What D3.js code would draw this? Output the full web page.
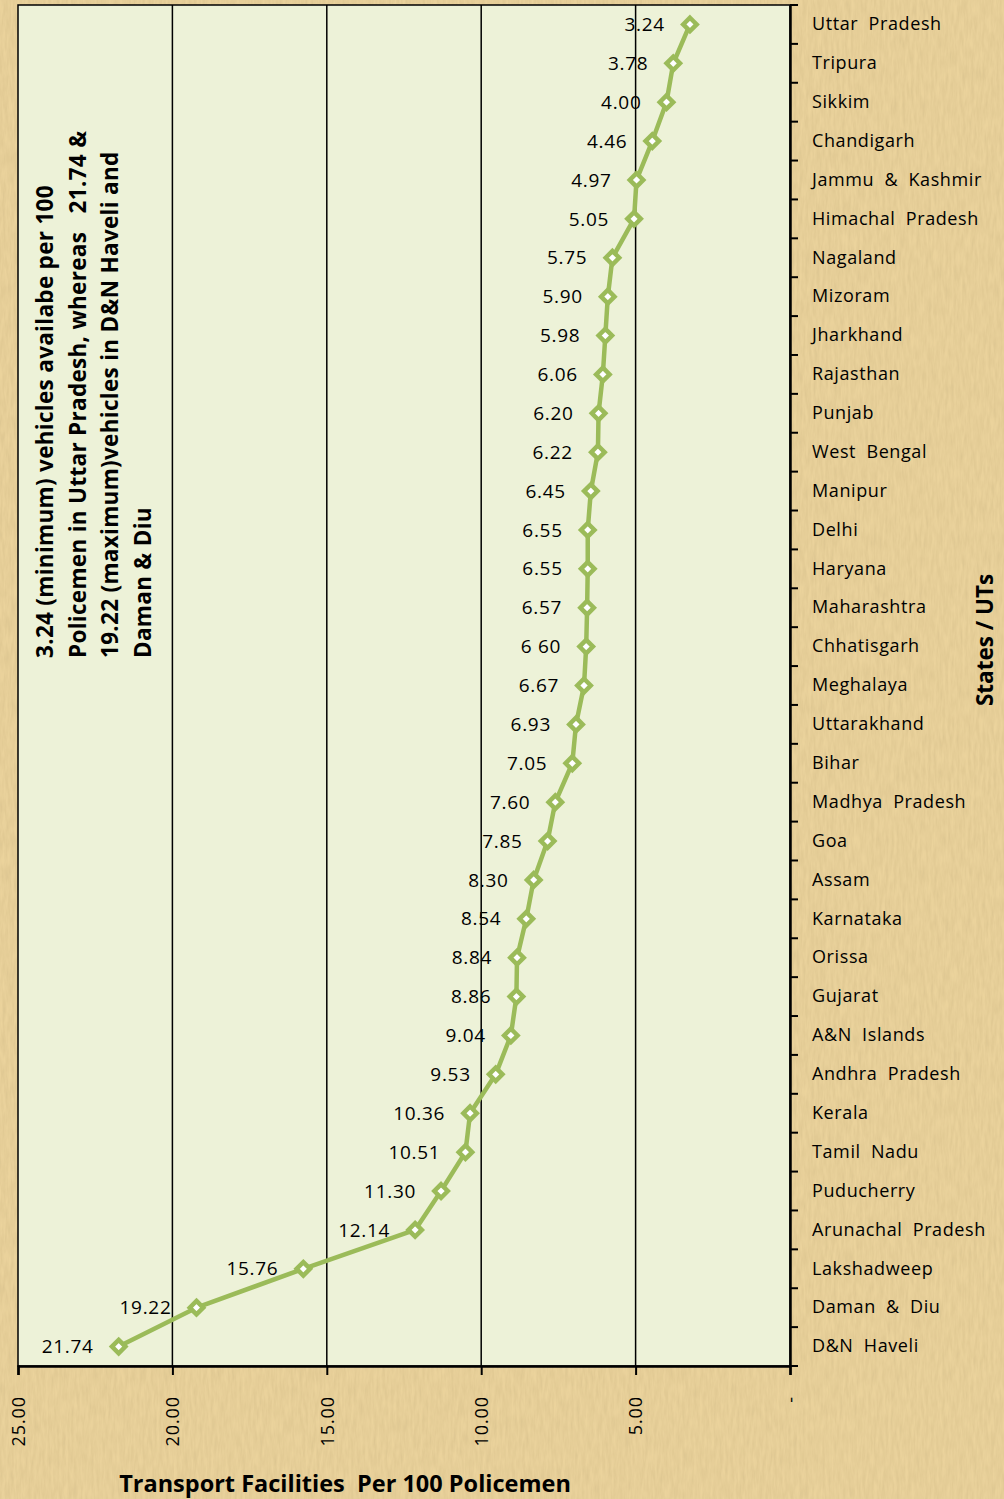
<!DOCTYPE html>
<html>
<head>
<meta charset="utf-8">
<script src="https://cdn.jsdelivr.net/npm/d3@7"></script>
<style>
  html, body { margin: 0; padding: 0; background: #e8d19d; }
  svg { display: block; }
</style>
</head>
<body>
<div id="chart"></div>
<script>
// states / UTs, top to bottom
var states = ["Uttar Pradesh", "Tripura", "Sikkim", "Chandigarh", "Jammu & Kashmir",
  "Himachal Pradesh", "Nagaland", "Mizoram", "Jharkhand", "Rajasthan", "Punjab",
  "West Bengal", "Manipur", "Delhi", "Haryana", "Maharashtra", "Chhatisgarh",
  "Meghalaya", "Uttarakhand", "Bihar", "Madhya Pradesh", "Goa", "Assam", "Karnataka",
  "Orissa", "Gujarat", "A&N Islands", "Andhra Pradesh", "Kerala", "Tamil Nadu",
  "Puducherry", "Arunachal Pradesh", "Lakshadweep", "Daman & Diu", "D&N Haveli"];

// transport facilities per 100 policemen
var values = [3.24, 3.78, 4.00, 4.46, 4.97, 5.05, 5.75, 5.90, 5.98, 6.06, 6.20,
  6.22, 6.45, 6.55, 6.55, 6.57, 6.60, 6.67, 6.93, 7.05, 7.60, 7.85, 8.30, 8.54,
  8.84, 8.86, 9.04, 9.53, 10.36, 10.51, 11.30, 12.14, 15.76, 19.22, 21.74];

// data labels as printed (one has a typo in the source)
var labelText = values.map(function (v) { return d3.format(".2f")(v); });
labelText[16] = "6 60";

var xTicks = [0, 5, 10, 15, 20, 25];

var note = ["3.24 (minimum) vehicles availabe per 100",
  "Policemen in Uttar Pradesh, whereas   21.74 &",
  "19.22 (maximum)vehicles in D&N Haveli and",
  "Daman & Diu"];

var W = 1004, H = 1499;
var plot = { left: 18, right: 790, top: 5, bottom: 1366 };
var green = "#9bbb59";
var font = "'Open Sans', Lato, sans-serif";

var svg = d3.select("#chart").append("svg")
  .attr("width", W)
  .attr("height", H)
  .style("font-family", font);

// papyrus-ish texture
var defs = svg.append("defs");
var f = defs.append("filter").attr("id", "paper")
  .attr("x", 0).attr("y", 0).attr("width", "100%").attr("height", "100%");
f.append("feTurbulence").attr("type", "fractalNoise")
  .attr("baseFrequency", "0.35 0.06").attr("numOctaves", 3).attr("seed", 4)
  .attr("result", "noise");
f.append("feColorMatrix").attr("in", "noise").attr("type", "matrix")
  .attr("values", "0 0 0 0 0.55  0 0 0 0 0.42  0 0 0 0 0.2  0 0 0 0.5 -0.1")
  .attr("result", "tint");
f.append("feComposite").attr("in", "tint").attr("in2", "SourceGraphic")
  .attr("operator", "over");

svg.append("rect")
  .attr("width", W).attr("height", H)
  .attr("fill", "#ebd39c")
  .attr("filter", "url(#paper)");

var x = d3.scaleLinear().domain([0, 25]).range([plot.right, plot.left]);
var y = d3.scaleBand().domain(states).range([plot.top, plot.bottom]);

// plot area
svg.append("rect")
  .attr("x", plot.left).attr("y", plot.top)
  .attr("width", plot.right - plot.left).attr("height", plot.bottom - plot.top)
  .attr("fill", "#edf2d8")
  .attr("stroke", "#000").attr("stroke-width", 1.5);

// vertical gridlines
svg.append("g").selectAll("line")
  .data(xTicks.filter(function (t) { return t > 0 && t < 25; }))
  .enter().append("line")
  .attr("x1", function (d) { return x(d); })
  .attr("x2", function (d) { return x(d); })
  .attr("y1", plot.top).attr("y2", plot.bottom)
  .attr("stroke", "#000").attr("stroke-width", 1.5);

// x axis at the bottom
var xAxis = svg.append("g")
  .attr("transform", "translate(0," + plot.bottom + ")")
  .call(d3.axisBottom(x).tickValues(xTicks).tickSize(9)
    .tickFormat(function (d) { return d === 0 ? "-" : d3.format(".2f")(d); }));
xAxis.select(".domain").attr("stroke", "#000").attr("stroke-width", 2.5);
xAxis.selectAll(".tick line").attr("stroke", "#000").attr("stroke-width", 2);
xAxis.selectAll(".tick text")
  .attr("font-family", font)
  .attr("font-size", 18)
  .attr("letter-spacing", 0.9)
  .attr("fill", "#000")
  .attr("text-anchor", "end")
  .attr("transform", "rotate(-90)")
  .attr("x", -30).attr("y", 0).attr("dy", "0.35em");

// category axis on the right
var yAxis = svg.append("g")
  .attr("transform", "translate(" + plot.right + ",0)")
  .call(d3.axisRight(y).tickSize(0).tickPadding(22));
yAxis.select(".domain").attr("stroke", "#000").attr("stroke-width", 2.5);
yAxis.selectAll(".tick text")
  .attr("font-family", font)
  .attr("font-size", 18)
  .attr("letter-spacing", 0.6)
  .attr("word-spacing", 5)
  .attr("fill", "#000");

// ticks between categories
svg.append("g").selectAll("line")
  .data(d3.range(states.length + 1))
  .enter().append("line")
  .attr("x1", plot.right).attr("x2", plot.right + 8)
  .attr("y1", function (i) { return plot.top + i * y.step(); })
  .attr("y2", function (i) { return plot.top + i * y.step(); })
  .attr("stroke", "#000").attr("stroke-width", 2);

// line
var line = d3.line()
  .x(function (d) { return x(d); })
  .y(function (d, i) { return y(states[i]) + y.bandwidth() / 2; });

svg.append("path")
  .datum(values)
  .attr("d", line)
  .attr("fill", "none")
  .attr("stroke", green)
  .attr("stroke-width", 4.5)
  .attr("stroke-linejoin", "round");

// diamond markers
var diamond = d3.symbol().type(d3.symbolDiamond2).size(115);
svg.append("g").selectAll("path")
  .data(values)
  .enter().append("path")
  .attr("d", diamond)
  .attr("transform", function (d, i) {
    return "translate(" + x(d) + "," + (y(states[i]) + y.bandwidth() / 2) + ")";
  })
  .attr("fill", "#fff")
  .attr("stroke", green)
  .attr("stroke-width", 4.5);

// data labels
svg.append("g").selectAll("text")
  .data(values)
  .enter().append("text")
  .attr("x", function (d) { return x(d) - 25; })
  .attr("y", function (d, i) { return y(states[i]) + y.bandwidth() / 2; })
  .attr("dy", "0.35em")
  .attr("text-anchor", "end")
  .attr("font-size", 19)
  .attr("letter-spacing", 0.7)
  .attr("fill", "#000")
  .text(function (d, i) { return labelText[i]; });

// note
svg.append("g").selectAll("text")
  .data(note)
  .enter().append("text")
  .attr("transform", function (d, i) {
    return "translate(" + (53 + i * 32.5) + ",658) rotate(-90)";
  })
  .attr("font-size", 22.5)
  .attr("font-weight", "bold")
  .attr("letter-spacing", 0.3)
  .attr("fill", "#000")
  .style("white-space", "pre")
  .text(function (d) { return d; });

// axis titles
svg.append("text")
  .attr("x", 345).attr("y", 1492)
  .attr("text-anchor", "middle")
  .attr("font-size", 23.5)
  .attr("font-weight", "bold")
  .attr("fill", "#000")
  .style("white-space", "pre")
  .text("Transport Facilities  Per 100 Policemen");

svg.append("text")
  .attr("transform", "translate(993,640) rotate(-90)")
  .attr("text-anchor", "middle")
  .attr("font-size", 22.5)
  .attr("font-weight", "bold")
  .attr("fill", "#000")
  .text("States / UTs");
</script>
</body>
</html>
